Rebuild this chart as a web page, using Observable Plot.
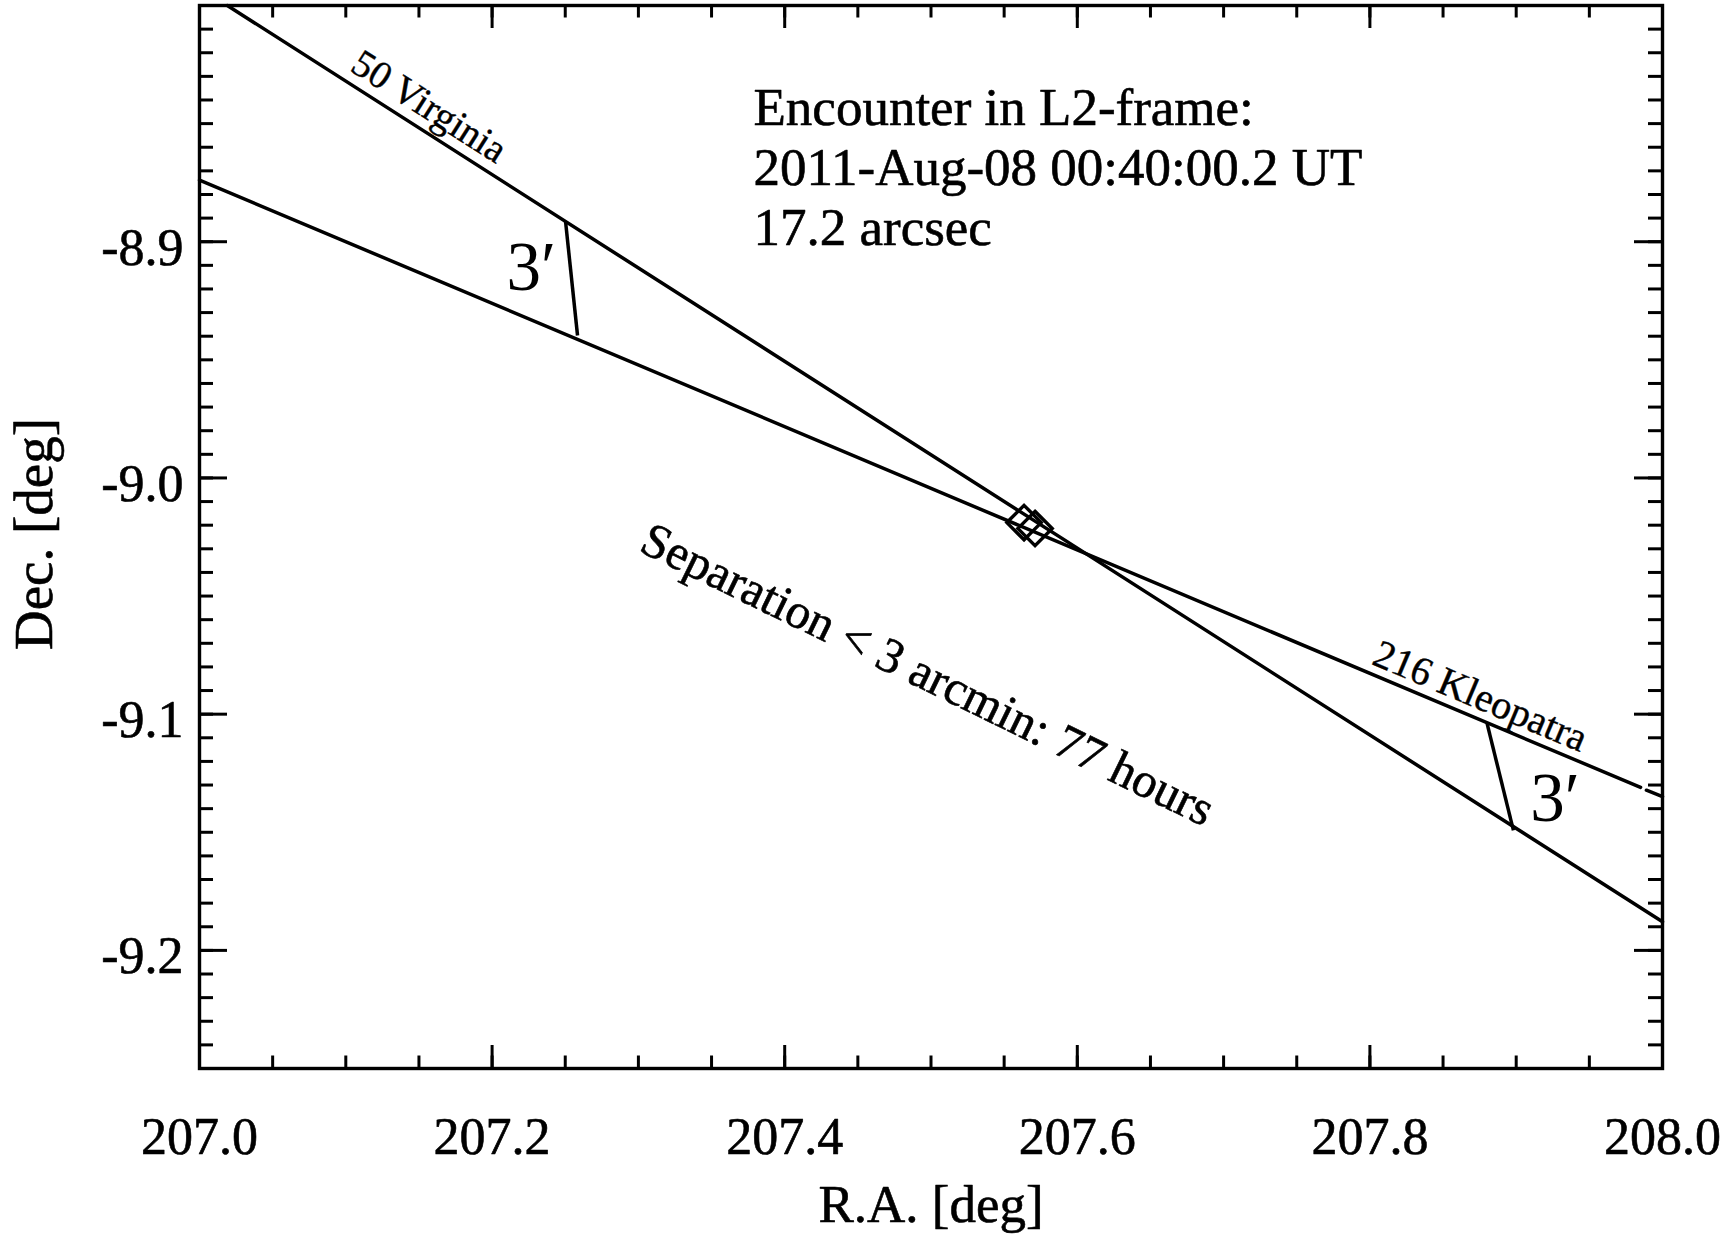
<!DOCTYPE html>
<html>
<head>
<meta charset="utf-8">
<script src="https://cdn.jsdelivr.net/npm/d3@7"></script>
<script src="https://cdn.jsdelivr.net/npm/@observablehq/plot@0.6"></script>
<style>
  html, body { margin: 0; padding: 0; background: #fff; }
  #chart svg { display: block; }
</style>
</head>
<body>
<div id="chart"></div>
<script>
// Sky tracks (R.A., Dec. in degrees) of the two asteroids around their close approach
const virginiaRA  = [207.019, 208.000];
const virginiaDec = [-8.8000, -9.1879];

const kleopatraRA  = [207.000, 207.985, null, 207.989, 208.000];
const kleopatraDec = [-8.8739, -9.1310, null, -9.1322, -9.1349];

// Cross-track segments where the separation is 3 arcmin
const barRA1  = [207.2502, 207.8800];
const barDec1 = [-8.8914, -9.1037];
const barRA2  = [207.2584, 207.8981];
const barDec2 = [-8.9397, -9.1492];
const barLabel = "3\u2032";

// Positions of both bodies at the encounter epoch
const encounterRA  = [207.5636, 207.5711];
const encounterDec = [-9.0189, -9.0214];

// Axis ticks and texts
const raDomain  = [207.0, 208.0];
const decDomain = [-9.25, -8.8];
const raMajor  = [207.0, 207.2, 207.4, 207.6, 207.8, 208.0];
const decMajor = [-8.9, -9.0, -9.1, -9.2];
const raMinorStep = 0.05;
const decMinorStep = 0.01;
const trackNames = ["50 Virginia", "216 Kleopatra"];
const encounterNote = ["Encounter in L2-frame:", "2011-Aug-08 00:40:00.2 UT", "17.2 arcsec"];
const durationNote = "Separation < 3 arcmin: 77 hours";
const xTitle = "R.A. [deg]";
const yTitle = "Dec. [deg]";

// Layout
const W = 1724, H = 1235;
const mL = 199, mR = 62, mT = 5, mB = 167;
const innerW = W - mL - mR, innerH = H - mT - mB;
const font = "'Liberation Serif', 'Times New Roman', Times, serif";
const ink = {fill: "black", stroke: "black", strokeWidth: 0.6};

const zip = (xs, ys) => xs.map((x, i) => ({ra: x, dec: ys[i]}));
const virginia = zip(virginiaRA, virginiaDec);
const kleopatra = zip(kleopatraRA, kleopatraDec);
const bars = barRA1.map((_, i) => ({ra1: barRA1[i], dec1: barDec1[i], ra2: barRA2[i], dec2: barDec2[i]}));
const encounter = zip(encounterRA, encounterDec);

const raMinor = d3.range(0, Math.round((raDomain[1] - raDomain[0]) / raMinorStep) + 1).map(i => raDomain[0] + i * raMinorStep);
const decMinor = d3.range(0, Math.round((decDomain[1] - decDomain[0]) / decMinorStep) + 1).map(i => decDomain[0] + i * decMinorStep);

// Screen angle of a straight track, and a point on it at a given R.A.
const pxPerRA = innerW / (raDomain[1] - raDomain[0]);
const pxPerDec = innerH / (decDomain[1] - decDomain[0]);
function trackAngle(ra, dec) {
  const n = ra.length - 1;
  return Math.atan2(-(dec[n] - dec[0]) * pxPerDec, (ra[n] - ra[0]) * pxPerRA) * 180 / Math.PI;
}
function onTrack(ra, dec, at) {
  const n = ra.length - 1;
  return {ra: at, dec: d3.scaleLinear([ra[0], ra[n]], [dec[0], dec[n]])(at)};
}
function trackLabel(text, ra, dec, at, offset, size) {
  const angle = trackAngle(ra, dec);
  const t = angle * Math.PI / 180;
  return Plot.text([onTrack(ra, dec, at)], {
    x: "ra", y: "dec", text: () => text, rotate: angle,
    textAnchor: "start", lineAnchor: "bottom",
    dx: offset * Math.sin(t), dy: -offset * Math.cos(t),
    fontSize: size, ...ink, strokeWidth: 0.4
  });
}

const tickStroke = {stroke: "black", strokeWidth: 3};

const chart = Plot.plot({
  width: W, height: H,
  marginLeft: mL, marginRight: mR, marginTop: mT, marginBottom: mB,
  style: {fontFamily: font, background: "white", color: "black", overflow: "visible"},
  x: {domain: raDomain, axis: null},
  y: {domain: decDomain, axis: null},
  marks: [
    // inward ticks on all four sides
    Plot.ruleX(raMinor, {...tickStroke, insetTop: innerH - 12.5}),
    Plot.ruleX(raMinor, {...tickStroke, insetBottom: innerH - 12.5}),
    Plot.ruleX(raMajor, {...tickStroke, insetTop: innerH - 23}),
    Plot.ruleX(raMajor, {...tickStroke, insetBottom: innerH - 23}),
    Plot.ruleY(decMinor, {...tickStroke, insetRight: innerW - 14}),
    Plot.ruleY(decMinor, {...tickStroke, insetLeft: innerW - 14}),
    Plot.ruleY(decMajor, {...tickStroke, insetRight: innerW - 28}),
    Plot.ruleY(decMajor, {...tickStroke, insetLeft: innerW - 28}),
    Plot.frame({stroke: "black", strokeWidth: 3.4}),

    // tick labels
    Plot.text(raMajor, {x: d => d, text: d => d.toFixed(1), frameAnchor: "bottom",
      lineAnchor: "bottom", dy: 85, fontSize: 52, ...ink}),
    Plot.text(decMajor, {y: d => d, text: d => d.toFixed(1), frameAnchor: "left",
      textAnchor: "end", lineAnchor: "bottom", dx: -16, dy: 23, fontSize: 52, ...ink}),

    // axis titles
    Plot.text([xTitle], {frameAnchor: "bottom", lineAnchor: "bottom", dy: 153, fontSize: 53, ...ink}),
    Plot.text([yTitle], {frameAnchor: "left", textAnchor: "middle", rotate: -90, lineAnchor: "bottom",
      dx: -148, dy: -3, fontSize: 55, ...ink}),

    // tracks
    Plot.line(virginia, {x: "ra", y: "dec", stroke: "black", strokeWidth: 3.5}),
    Plot.line(kleopatra, {x: "ra", y: "dec", stroke: "black", strokeWidth: 3.5}),

    // 3-arcmin separation segments and their labels
    Plot.link(bars, {x1: "ra1", y1: "dec1", x2: "ra2", y2: "dec2", stroke: "black", strokeWidth: 3.5}),
    Plot.text([bars[0]], {x: d => (d.ra1 + d.ra2) / 2, y: d => (d.dec1 + d.dec2) / 2,
      text: () => barLabel, textAnchor: "start", lineAnchor: "bottom", dx: -65, dy: 12, fontSize: 69}),
    Plot.text([bars[1]], {x: d => (d.ra1 + d.ra2) / 2, y: d => (d.dec1 + d.dec2) / 2,
      text: () => barLabel, textAnchor: "start", lineAnchor: "bottom", dx: 30, dy: 44, fontSize: 69}),

    // encounter markers
    Plot.dot(encounter, {x: "ra", y: "dec", symbol: "diamond2", r: 15.5,
      fill: "none", stroke: "black", strokeWidth: 3.4}),

    // track names
    trackLabel(trackNames[0], virginiaRA, virginiaDec, 207.098, 11, 39),
    trackLabel(trackNames[1], [kleopatraRA[0], kleopatraRA[4]], [kleopatraDec[0], kleopatraDec[4]], 207.798, 9, 40),

    // annotations
    Plot.text([encounterNote.join("\n")], {frameAnchor: "top-left", textAnchor: "start",
      lineAnchor: "bottom", lineHeight: 60 / 53, dx: 554, dy: 239, fontSize: 53, ...ink}),
    Plot.text([durationNote], {frameAnchor: "top-left", textAnchor: "start",
      lineAnchor: "bottom", rotate: 26, dx: 438, dy: 545, fontSize: 49, ...ink})
  ]
});

document.getElementById("chart").appendChild(chart);
</script>
</body>
</html>
